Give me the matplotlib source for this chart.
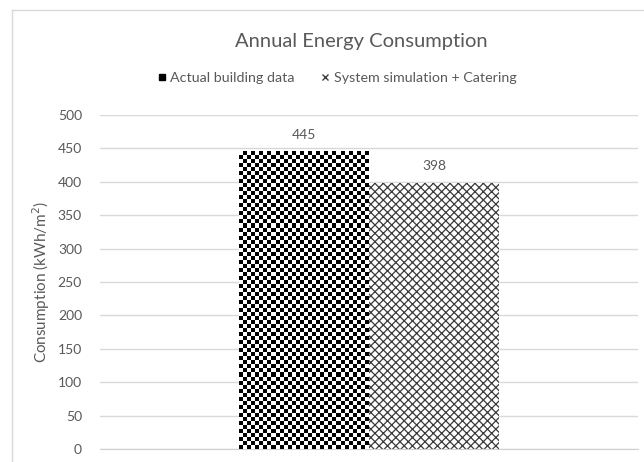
import numpy as np
import matplotlib
matplotlib.use("Agg")
import matplotlib.pyplot as plt
from matplotlib.lines import Line2D

# data
series = ["Actual building data", "System simulation + Catering"]
values = [445, 398]
yticks = [0, 50, 100, 150, 200, 250, 300, 350, 400, 450, 500]

plt.rcParams['font.family'] = ['Lato', 'DejaVu Sans']
txt = '#595959'

fig = plt.figure(figsize=(6.44, 4.62), dpi=100)
ax = fig.add_axes([100/644, 13/462, 538/644, 334/462])

# chart border (left and top edges visible)
fig.add_artist(Line2D([12/644, 12/644], [0, 1 - 10/462], color='#d9d9d9', lw=1))
fig.add_artist(Line2D([12/644, 1], [1 - 10/462, 1 - 10/462], color='#d9d9d9', lw=1))

w = 0.2416
offsets = [-w/2, w/2]

# first bar: checkerboard fill
b1 = ax.bar(offsets[0], values[0], width=w, color='white', edgecolor='none', zorder=2)[0]
# second bar: cross hatch
plt.rcParams['hatch.linewidth'] = 0.9
b2 = ax.bar(offsets[1], values[1], width=w, color='white', edgecolor='#3a3a3a',
            linewidth=0, hatch='xxxx', zorder=2)[0]

ax.set_xlim(-0.5, 0.5)
ax.set_ylim(0, 500)

fig.canvas.draw()
bb = b1.get_window_extent()
nx = int(round(bb.width / 4))
ny = int(round(bb.height / 4))
checker = np.indices((ny, nx)).sum(0) % 2
x0 = b1.get_x()
ax.imshow(checker, cmap='gray', extent=(x0, x0 + w, 0, values[0]), aspect='auto',
          interpolation='nearest', zorder=3, clip_path=b1, origin='lower')
ax.set_xlim(-0.5, 0.5)
ax.set_ylim(0, 500)

# value labels
for off, v in zip(offsets, values):
    ax.annotate(str(v), (off, v), xytext=(0, 8), textcoords='offset points',
                ha='center', va='bottom', fontsize=10, color=txt)

ax.set_yticks(yticks)
ax.yaxis.grid(True, color='#d9d9d9', lw=1)
ax.set_axisbelow(True)
ax.set_xticks([])
ax.tick_params(axis='y', length=0, pad=13, labelsize=10, labelcolor=txt)
for s in ['top', 'right', 'left']:
    ax.spines[s].set_visible(False)
ax.spines['bottom'].set_color('#d0d0d0')
ax.set_ylabel('Consumption (kWh/m$^2$)', fontsize=11, color=txt, labelpad=4)

fig.text(361/644, 1 - 42/462, 'Annual Energy Consumption', ha='center', va='center',
         fontsize=14.5, color=txt)

handles = [Line2D([], [], ls='none', marker='s', markersize=4, color='black'),
           Line2D([], [], ls='none', marker='x', markersize=5, color='#404040')]
fig.legend(handles, series, loc='center', bbox_to_anchor=(337/644, 1 - 78/462),
           ncol=2, frameon=False, fontsize=10.3, labelcolor=txt, handlelength=0.6,
           handletextpad=0.3, columnspacing=1.8)

fig.savefig('out.png', dpi=100)
